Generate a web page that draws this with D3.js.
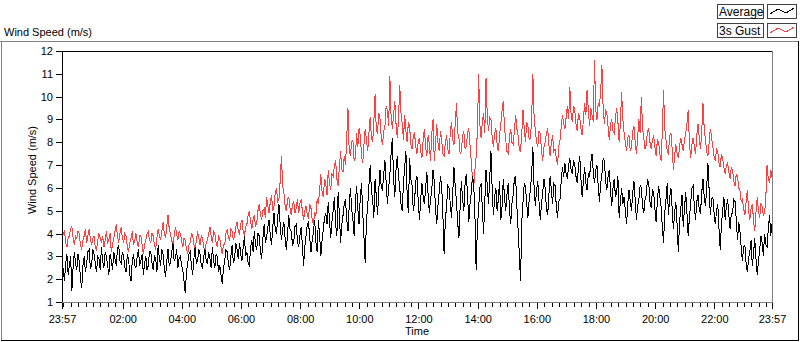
<!DOCTYPE html>
<html>
<head>
<meta charset="utf-8">
<script src="https://cdn.jsdelivr.net/npm/d3@7"></script>
<style>
  body { margin: 0; background: #fff; }
  svg text { font-family: "Liberation Sans", Arial, sans-serif; fill: #000; }
</style>
</head>
<body>
<svg id="chart" width="800" height="342"></svg>
<script>
// one sample every 150 s, 23:57 -> 23:57 next day (one row = one hour)
var startTime = new Date(2000, 0, 1, 23, 57);
var stepSeconds = 150;

var average = [
  2.9, 2.4, 1.9, 2.7, 3.1, 2.2, 2.6, 3.0, 1.5, 2.5, 3.2, 2.7, 2.4, 3.1, 2.8, 2.0, 1.6, 2.6, 3.0, 2.3, 2.7, 3.2, 3.3, 2.5,
  2.6, 3.3, 3.1, 2.7, 2.3, 3.0, 2.9, 2.4, 3.4, 2.8, 2.5, 3.2, 3.0, 2.6, 2.2, 3.1, 2.8, 2.4, 3.2, 2.9, 2.6, 3.3, 3.5, 2.8,
  2.7, 3.2, 3.0, 2.5, 2.3, 3.1, 2.9, 2.2, 1.9, 2.8, 3.1, 2.6, 2.5, 3.0, 3.3, 2.6, 2.8, 3.1, 2.2, 2.7, 3.0, 2.4, 2.6, 3.2,
  3.2, 2.7, 2.4, 3.0, 2.9, 2.3, 3.5, 2.9, 2.6, 3.3, 3.1, 2.5, 2.1, 2.8, 3.3, 2.6, 2.7, 3.2, 3.6, 2.8, 2.9, 3.3, 2.5, 2.9,
  3.0, 2.6, 2.4, 1.9, 1.4, 2.3, 2.7, 3.1, 3.2, 2.6, 2.2, 2.9, 3.4, 2.7, 2.8, 3.3, 3.1, 2.6, 2.5, 3.0, 3.3, 2.8, 2.7, 3.2,
  2.9, 2.5, 3.4, 2.8, 2.5, 3.1, 3.0, 2.3, 2.6, 2.2, 1.8, 2.5, 2.8, 3.3, 3.2, 2.7, 2.4, 3.0, 3.5, 2.7, 2.9, 3.6, 3.3, 2.9,
  3.6, 3.1, 2.8, 3.4, 3.9, 3.0, 3.2, 2.7, 2.6, 3.4, 3.7, 3.2, 4.1, 3.5, 3.3, 4.0, 3.9, 3.2, 2.9, 3.8, 4.4, 3.6, 3.8, 4.3,
  4.6, 3.9, 3.5, 4.3, 4.9, 4.2, 4.0, 4.7, 5.3, 4.4, 3.7, 4.2, 4.5, 3.8, 3.3, 4.0, 4.8, 4.2, 4.1, 3.5, 3.6, 4.3, 4.4, 3.7,
  3.4, 3.9, 4.3, 3.5, 2.6, 3.4, 3.9, 4.4, 4.5, 3.8, 3.2, 3.7, 4.1, 4.6, 3.6, 3.2, 4.6, 3.9, 3.0, 3.7, 4.2, 4.7, 4.9, 4.4,
  5.4, 4.6, 3.8, 4.5, 5.0, 5.6, 4.4, 3.9, 5.8, 4.9, 3.6, 4.4, 4.8, 5.3, 5.5, 4.6, 4.1, 5.2, 6.0, 5.1, 4.6, 3.9, 5.3, 6.1,
  5.1, 4.4, 5.6, 6.2, 4.9, 3.8, 2.7, 4.6, 5.2, 6.1, 7.0, 5.9, 5.5, 4.7, 6.4, 5.6, 4.8, 5.9, 6.8, 6.0, 5.9, 6.6, 7.2, 6.2,
  5.3, 6.0, 6.6, 7.5, 8.2, 6.4, 5.6, 6.8, 7.4, 6.5, 6.0, 5.3, 5.0, 6.2, 6.9, 7.6, 5.7, 4.9, 7.3, 6.4, 6.1, 5.0, 5.4, 6.3,
  6.5, 5.4, 4.6, 5.5, 6.2, 5.6, 5.3, 6.0, 6.7, 5.7, 4.9, 5.5, 5.9, 6.8, 6.3, 5.1, 4.4, 5.2, 5.8, 6.5, 6.1, 4.8, 3.1, 4.6,
  5.2, 6.1, 6.0, 5.3, 4.7, 5.8, 6.9, 6.1, 5.4, 4.5, 3.8, 5.2, 6.3, 5.5, 5.0, 6.2, 6.6, 5.7, 4.5, 5.3, 5.8, 6.5, 6.2, 4.8,
  2.4, 4.3, 5.1, 6.0, 6.2, 5.1, 4.0, 5.4, 6.8, 6.1, 5.3, 6.4, 7.6, 5.9, 4.8, 5.6, 6.0, 5.0, 5.5, 6.3, 4.6, 5.2, 6.4, 5.6,
  5.0, 5.7, 6.2, 5.1, 4.4, 5.3, 5.7, 6.4, 6.5, 5.2, 4.2, 3.1, 1.9, 4.5, 5.4, 6.2, 6.1, 5.3, 4.7, 5.5, 5.9, 6.6, 7.8, 6.0,
  5.2, 5.9, 6.3, 5.4, 4.6, 5.3, 5.8, 6.4, 6.0, 5.1, 4.8, 5.7, 6.5, 5.9, 5.3, 6.2, 6.1, 5.2, 4.7, 5.4, 5.5, 6.3, 6.9, 6.5,
  7.1, 6.6, 6.4, 7.0, 7.3, 6.8, 6.6, 7.2, 7.0, 6.5, 6.2, 6.9, 7.4, 6.4, 5.6, 6.3, 6.9, 6.2, 5.9, 6.6, 6.5, 7.1, 7.5, 6.7,
  6.2, 6.8, 7.0, 6.1, 5.4, 6.2, 6.6, 7.3, 7.2, 6.3, 5.9, 6.5, 6.8, 5.9, 5.2, 6.0, 6.4, 5.6, 5.8, 6.5, 4.7, 5.4, 6.0, 5.3,
  5.6, 5.0, 4.4, 5.3, 5.9, 5.4, 5.0, 5.8, 6.3, 5.5, 4.6, 5.2, 5.5, 6.1, 6.0, 5.2, 4.9, 5.5, 5.7, 6.4, 6.2, 5.4, 5.1, 5.9,
  5.8, 5.1, 4.5, 5.4, 6.1, 5.6, 5.2, 4.3, 3.6, 4.9, 5.5, 6.2, 4.8, 5.6, 6.0, 5.1, 4.2, 4.9, 5.4, 4.4, 3.2, 4.5, 5.1, 5.7,
  4.3, 5.1, 5.8, 4.9, 3.9, 4.7, 5.3, 6.0, 6.1, 5.2, 4.6, 5.4, 5.7, 5.0, 4.9, 5.8, 6.4, 5.6, 5.2, 6.0, 7.1, 5.9, 4.8, 5.5,
  5.6, 4.9, 4.4, 5.0, 5.3, 4.2, 3.3, 4.4, 5.0, 5.6, 4.6, 5.2, 5.5, 4.8, 4.2, 4.9, 4.9, 5.5, 5.4, 4.6, 3.7, 4.5, 4.1, 3.4,
  2.8, 3.4, 3.5, 2.7, 2.3, 2.9, 3.2, 3.7, 2.6, 3.1, 3.8, 2.9, 2.2, 2.8, 3.3, 3.9, 3.6, 3.0, 4.0, 3.5, 3.4, 4.2, 4.8, 3.9,
  4.4
];

var gust = [
  3.7, 4.0, 4.1, 3.6, 3.4, 3.8, 3.9, 4.2, 4.3, 3.8, 3.5, 3.9, 3.8, 4.1, 4.0, 3.5, 3.3, 3.7, 3.9, 4.2, 3.6, 3.9, 4.2, 3.8,
  3.5, 3.8, 3.9, 3.4, 3.3, 3.7, 4.0, 3.8, 3.6, 3.9, 3.4, 3.7, 4.1, 3.6, 3.7, 4.0, 3.2, 3.5, 3.8, 4.1, 4.4, 3.9, 3.6, 4.0,
  4.3, 3.8, 3.6, 4.0, 3.9, 3.4, 3.2, 3.6, 3.8, 4.1, 3.5, 3.7, 4.0, 3.6, 3.4, 3.9, 3.9, 3.5, 3.1, 3.5, 3.7, 4.0, 4.1, 3.7,
  3.6, 4.0, 3.9, 3.5, 3.3, 3.8, 4.2, 3.9, 3.7, 4.1, 4.5, 4.0, 3.8, 4.3, 4.8, 4.2, 4.0, 3.7, 3.5, 3.9, 4.3, 4.0, 3.7, 4.1,
  4.0, 3.7, 3.4, 3.8, 3.7, 3.3, 3.1, 3.5, 3.6, 4.0, 3.9, 3.5, 3.3, 3.7, 4.1, 3.8, 3.5, 3.9, 3.8, 3.4, 3.2, 3.6, 3.7, 4.0,
  4.3, 3.9, 3.6, 4.1, 4.0, 3.6, 3.4, 3.9, 3.8, 3.4, 3.1, 3.5, 3.5, 4.0, 4.2, 3.8, 3.7, 4.2, 4.1, 3.7, 3.9, 4.3, 4.5, 4.1,
  4.0, 4.4, 4.6, 4.1, 3.9, 4.3, 4.4, 4.8, 5.0, 4.5, 4.2, 4.6, 4.8, 4.3, 4.5, 5.0, 5.3, 4.8, 4.6, 5.0, 5.1, 4.7, 5.6, 5.2,
  4.9, 5.4, 5.7, 5.0, 5.2, 5.8, 6.0, 5.4, 5.5, 6.3, 7.4, 6.1, 5.8, 5.2, 5.0, 5.5, 5.6, 5.1, 4.8, 5.3, 5.4, 4.9, 5.1, 5.5,
  4.9, 5.3, 5.5, 5.0, 4.6, 5.0, 5.2, 4.8, 4.7, 5.3, 5.1, 4.6, 4.4, 4.9, 4.8, 5.5, 5.3, 5.9, 6.6, 5.8, 5.6, 6.4, 6.2, 5.7,
  6.8, 6.2, 5.9, 6.6, 6.5, 7.0, 7.2, 6.4, 6.1, 6.9, 7.6, 6.8, 6.7, 7.4, 7.0, 8.2, 9.5, 7.6, 7.4, 8.0, 8.1, 7.2, 7.3, 8.4,
  7.8, 8.6, 8.3, 7.4, 7.1, 7.9, 8.6, 8.1, 7.6, 8.4, 9.1, 8.2, 8.0, 8.9, 10.1, 8.5, 8.4, 9.3, 9.0, 8.2, 7.9, 8.5, 8.7, 9.6,
  9.4, 8.7, 10.9, 9.1, 8.6, 9.2, 9.8, 8.8, 8.2, 9.0, 10.5, 9.3, 8.8, 8.1, 9.2, 8.5, 8.0, 8.9, 8.7, 7.9, 7.7, 8.3, 8.4, 7.8,
  7.5, 8.0, 8.2, 7.6, 7.3, 8.1, 8.6, 7.8, 7.4, 8.3, 7.9, 7.2, 8.4, 9.0, 7.2, 7.9, 8.8, 8.0, 7.6, 8.5, 8.1, 7.5, 7.4, 8.0,
  8.3, 7.7, 7.5, 8.4, 8.9, 8.1, 7.9, 8.8, 9.7, 8.4, 8.2, 7.5, 7.6, 8.3, 8.5, 7.7, 7.8, 8.4, 8.6, 7.9, 7.2, 6.4, 6.0, 6.8,
  7.4, 8.5, 11.0, 8.8, 8.2, 8.9, 9.3, 8.4, 10.8, 9.2, 8.5, 9.1, 9.0, 8.2, 7.8, 8.4, 8.6, 7.9, 7.6, 8.3, 8.8, 9.4, 9.8, 8.6,
  8.1, 7.6, 7.5, 8.2, 8.6, 8.0, 7.9, 8.5, 9.2, 8.6, 8.3, 7.7, 7.6, 8.4, 9.4, 8.6, 8.0, 8.9, 8.7, 8.1, 8.2, 9.0, 11.0, 9.1,
  8.5, 8.0, 7.8, 8.5, 8.4, 7.6, 7.2, 7.8, 8.0, 8.4, 8.6, 7.9, 7.4, 8.0, 8.3, 7.6, 7.7, 7.3, 7.0, 7.8, 8.1, 8.7, 9.2, 8.8,
  8.6, 9.1, 9.6, 9.0, 10.4, 9.2, 8.9, 9.6, 9.4, 8.8, 8.5, 9.3, 9.1, 8.6, 8.3, 9.0, 9.7, 9.2, 10.3, 9.4, 8.7, 9.5, 9.2, 8.9,
  11.6, 9.4, 9.0, 9.7, 9.6, 10.2, 11.4, 9.5, 8.8, 9.4, 9.3, 8.7, 8.1, 8.8, 9.0, 8.5, 8.4, 9.1, 9.5, 8.9, 8.0, 8.8, 10.2, 9.0,
  8.4, 8.0, 7.6, 8.2, 8.3, 7.6, 7.8, 8.5, 8.7, 8.0, 7.5, 8.2, 9.0, 8.4, 10.0, 8.6, 8.2, 7.7, 7.9, 8.5, 8.6, 8.0, 7.7, 8.1,
  8.3, 7.8, 7.4, 8.1, 8.0, 7.5, 7.2, 8.4, 10.3, 8.6, 8.1, 7.6, 7.5, 8.3, 8.4, 7.7, 6.8, 7.4, 7.9, 7.5, 7.3, 7.8, 8.2, 7.9,
  7.6, 8.1, 8.4, 8.8, 9.4, 8.0, 7.3, 7.9, 8.2, 7.8, 7.5, 8.3, 8.8, 8.2, 7.7, 8.5, 9.7, 8.6, 8.1, 7.6, 7.4, 8.0, 8.6, 8.2,
  7.8, 7.4, 7.2, 7.7, 7.6, 7.1, 6.9, 7.5, 7.3, 6.9, 6.6, 7.0, 7.1, 6.7, 6.4, 6.9, 6.8, 6.3, 6.1, 6.6, 6.5, 6.0, 5.9, 5.4,
  5.5, 5.1, 4.8, 5.4, 5.9, 5.0, 4.6, 5.1, 5.3, 4.6, 4.1, 4.9, 5.6, 5.0, 4.7, 5.3, 5.2, 4.8, 4.9, 5.6, 7.0, 6.4, 6.2, 6.8,
  6.5
];

var yTicks = [1, 2, 3, 4, 5, 6, 7, 8, 9, 10, 11, 12];
var legendNames = ["Average", "3s Gust"];
var legendColors = ["#000000", "#ff4040"];

var svg = d3.select("#chart");
var plotLeft = 62, plotRight = 772, plotTop = 51, plotBottom = 302;
var endTime = d3.timeMinute.offset(startTime, 24 * 60);

var x = d3.scaleTime().domain([startTime, endTime]).range([plotLeft, plotRight]);
var y = d3.scaleLinear().domain([1, 12]).range([plotBottom, plotTop]);

function sampleTime(i) {
  return d3.timeSecond.offset(startTime, i * stepSeconds);
}

// outer frame
svg.append("line").attr("x1", 0).attr("x2", 798).attr("y1", 41.5).attr("y2", 41.5)
  .attr("stroke", "#808080");
svg.append("line").attr("x1", 1.5).attr("x2", 1.5).attr("y1", 41).attr("y2", 340)
  .attr("stroke", "#808080");
svg.append("line").attr("x1", 798.5).attr("x2", 798.5).attr("y1", 41).attr("y2", 341)
  .attr("stroke", "#000");
svg.append("line").attr("x1", 1).attr("x2", 799).attr("y1", 340.5).attr("y2", 340.5)
  .attr("stroke", "#000");

svg.append("text").attr("x", 4).attr("y", 36).style("font-size", "11px")
  .text("Wind Speed (m/s)");

// legend
var legend = svg.append("g");
legendNames.forEach(function (name, i) {
  var ly = 4 + i * 19;
  legend.append("rect").attr("x", 717.5).attr("y", ly + 0.5).attr("width", 46).attr("height", 14)
    .attr("fill", "#fff").attr("stroke", "#404040");
  legend.append("text").attr("x", 719).attr("y", ly + 12).style("font-size", "12px").text(name);
  legend.append("rect").attr("x", 767.5).attr("y", ly + 0.5).attr("width", 29).attr("height", 14)
    .attr("fill", "#fff").attr("stroke", "#404040");
  legend.append("path")
    .attr("d", d3.line()([[770, ly + 10], [778, ly + 5], [786, ly + 9], [794, ly + 4]]))
    .attr("fill", "none").attr("stroke", legendColors[i]).attr("shape-rendering", "crispEdges");
});

// series
var line = d3.line()
  .x(function (d, i) { return x(sampleTime(i)); })
  .y(function (d) { return y(d); });

var plot = svg.append("g").attr("shape-rendering", "crispEdges");
plot.append("path").datum(gust).attr("d", line)
  .attr("fill", "none").attr("stroke", legendColors[1]).attr("stroke-width", 1);
plot.append("path").datum(average).attr("d", line)
  .attr("fill", "none").attr("stroke", legendColors[0]).attr("stroke-width", 1);

// plot frame
svg.append("line").attr("x1", plotLeft).attr("x2", plotRight).attr("y1", plotTop + 0.5).attr("y2", plotTop + 0.5)
  .attr("stroke", "#000");
svg.append("line").attr("x1", plotLeft + 0.5).attr("x2", plotLeft + 0.5).attr("y1", plotTop).attr("y2", plotBottom)
  .attr("stroke", "#000");
svg.append("line").attr("x1", plotRight + 0.5).attr("x2", plotRight + 0.5).attr("y1", plotTop).attr("y2", plotBottom + 1)
  .attr("stroke", "#808080");
svg.append("line").attr("x1", plotLeft).attr("x2", plotRight + 1).attr("y1", plotBottom + 0.5).attr("y2", plotBottom + 0.5)
  .attr("stroke", "#808080");

// y axis
var yAxis = d3.axisLeft(y).tickValues(yTicks).tickSize(6).tickPadding(3)
  .tickFormat(d3.format("d"));
var yg = svg.append("g").attr("transform", "translate(" + plotLeft + ",0)").call(yAxis);
yg.select(".domain").remove();
yg.selectAll("text").style("font-size", "11px").attr("fill", "#000");

// x axis: minor ticks each 15 min, labels every 2 h plus the ends
var minorTicks = [startTime].concat(d3.timeMinute.every(15).range(startTime, endTime)).concat([endTime]);
var majorTicks = [startTime].concat(d3.timeHour.every(2).range(d3.timeMinute.offset(startTime, 60), endTime)).concat([endTime]);
majorTicks = majorTicks.filter(function (d, i) { return i === 0 || i === majorTicks.length - 1 || d.getHours() !== 0; });

var xMinor = d3.axisBottom(x).tickValues(minorTicks).tickSize(4).tickFormat("");
var xm = svg.append("g").attr("transform", "translate(0," + (plotBottom + 1) + ")").call(xMinor);
xm.select(".domain").remove();

var xMajor = d3.axisBottom(x).tickValues(majorTicks).tickSize(6).tickPadding(6)
  .tickFormat(d3.timeFormat("%H:%M"));
var xg = svg.append("g").attr("transform", "translate(0," + (plotBottom + 1) + ")").call(xMajor);
xg.select(".domain").remove();
xg.selectAll("text").style("font-size", "11px").attr("fill", "#000");

svg.selectAll(".tick line").attr("stroke", "#000");

// axis titles
svg.append("text").attr("x", 417).attr("y", 335).attr("text-anchor", "middle")
  .style("font-size", "11px").text("Time");
svg.append("text").attr("transform", "translate(36,170) rotate(-90)").attr("text-anchor", "middle")
  .style("font-size", "11px").text("Wind Speed (m/s)");

svg.selectAll("line").attr("shape-rendering", "crispEdges");
</script>
</body>
</html>
